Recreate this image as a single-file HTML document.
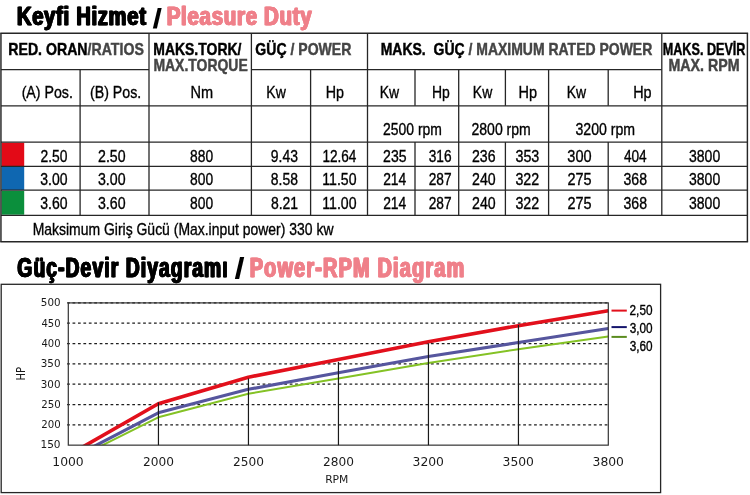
<!DOCTYPE html>
<html lang="tr"><head><meta charset="utf-8"><title>Keyfi Hizmet / Pleasure Duty</title>
<style>html,body{margin:0;padding:0;background:#fff}svg{display:block}text{white-space:pre}.b{stroke-width:0.45px}.r{stroke-width:0.35px}.H{letter-spacing:0.9px;stroke:currentColor;stroke-width:0.3px;filter:drop-shadow(0.85px 0 0 currentColor) drop-shadow(-0.85px 0 0 currentColor)}.H2{letter-spacing:1.6px;stroke:currentColor;stroke-width:0.3px;filter:drop-shadow(0.9px 0 0 currentColor) drop-shadow(-0.9px 0 0 currentColor)}</style></head>
<body>
<svg width="750" height="495" viewBox="0 0 750 495" font-family="'Liberation Sans', sans-serif">
<rect width="750" height="495" fill="#fff"/>
<rect x="1.5" y="142.7" width="22.7" height="23.4" fill="#e30a17"/>
<rect x="1.5" y="166.9" width="22.7" height="23.2" fill="#0f67b1"/>
<rect x="1.5" y="190.9" width="22.7" height="23.8" fill="#0b8f3c"/>
<g id="table">
<line x1="0.95" y1="105.80" x2="747.40" y2="105.80" stroke="#262626" stroke-width="1.3"/>
<line x1="0.95" y1="142.10" x2="747.40" y2="142.10" stroke="#262626" stroke-width="1.3"/>
<line x1="0.95" y1="166.30" x2="747.40" y2="166.30" stroke="#262626" stroke-width="1.3"/>
<line x1="0.95" y1="190.20" x2="747.40" y2="190.20" stroke="#262626" stroke-width="1.3"/>
<line x1="0.95" y1="215.30" x2="747.40" y2="215.30" stroke="#262626" stroke-width="1.3"/>
<line x1="0.25" y1="33.30" x2="748.10" y2="33.30" stroke="#262626" stroke-width="1.45"/>
<line x1="0.25" y1="241.75" x2="748.10" y2="241.75" stroke="#262626" stroke-width="1.45"/>
<line x1="0.95" y1="69.55" x2="149.00" y2="69.55" stroke="#262626" stroke-width="1.3"/>
<line x1="251.40" y1="69.55" x2="661.80" y2="69.55" stroke="#262626" stroke-width="1.3"/>
<line x1="0.95" y1="33.30" x2="0.95" y2="241.75" stroke="#262626" stroke-width="1.45"/>
<line x1="747.40" y1="33.30" x2="747.40" y2="241.75" stroke="#262626" stroke-width="1.45"/>
<line x1="80.10" y1="69.55" x2="80.10" y2="215.30" stroke="#262626" stroke-width="1.3"/>
<line x1="149.00" y1="33.30" x2="149.00" y2="215.30" stroke="#262626" stroke-width="1.3"/>
<line x1="251.40" y1="33.30" x2="251.40" y2="215.30" stroke="#262626" stroke-width="1.3"/>
<line x1="367.50" y1="33.30" x2="367.50" y2="215.30" stroke="#262626" stroke-width="1.3"/>
<line x1="661.80" y1="33.30" x2="661.80" y2="215.30" stroke="#262626" stroke-width="1.3"/>
<line x1="310.60" y1="69.55" x2="310.60" y2="215.30" stroke="#262626" stroke-width="1.3"/>
<line x1="458.70" y1="69.55" x2="458.70" y2="215.30" stroke="#262626" stroke-width="1.3"/>
<line x1="548.60" y1="69.55" x2="548.60" y2="215.30" stroke="#262626" stroke-width="1.3"/>
<line x1="415.00" y1="69.55" x2="415.00" y2="105.80" stroke="#262626" stroke-width="1.3"/>
<line x1="415.00" y1="142.10" x2="415.00" y2="215.30" stroke="#262626" stroke-width="1.3"/>
<line x1="505.40" y1="69.55" x2="505.40" y2="105.80" stroke="#262626" stroke-width="1.3"/>
<line x1="505.40" y1="142.10" x2="505.40" y2="215.30" stroke="#262626" stroke-width="1.3"/>
<line x1="608.20" y1="69.55" x2="608.20" y2="105.80" stroke="#262626" stroke-width="1.3"/>
<line x1="608.20" y1="142.10" x2="608.20" y2="215.30" stroke="#262626" stroke-width="1.3"/>
</g>
<g id="chart">
<rect x="1.2" y="284.3" width="659.4" height="208.3" fill="#fff" stroke="#262626" stroke-width="1.3"/>
<line x1="67.10" y1="302.90" x2="608.30" y2="302.90" stroke="#1e1e1e" stroke-width="1.25" stroke-dasharray="2.75 2.68"/>
<line x1="67.10" y1="323.22" x2="608.30" y2="323.22" stroke="#1e1e1e" stroke-width="1.25" stroke-dasharray="2.75 2.68"/>
<line x1="67.10" y1="343.54" x2="608.30" y2="343.54" stroke="#1e1e1e" stroke-width="1.25" stroke-dasharray="2.75 2.68"/>
<line x1="67.10" y1="363.86" x2="608.30" y2="363.86" stroke="#1e1e1e" stroke-width="1.25" stroke-dasharray="2.75 2.68"/>
<line x1="67.10" y1="384.19" x2="608.30" y2="384.19" stroke="#1e1e1e" stroke-width="1.25" stroke-dasharray="2.75 2.68"/>
<line x1="67.10" y1="404.51" x2="608.30" y2="404.51" stroke="#1e1e1e" stroke-width="1.25" stroke-dasharray="2.75 2.68"/>
<line x1="67.10" y1="424.83" x2="608.30" y2="424.83" stroke="#1e1e1e" stroke-width="1.25" stroke-dasharray="2.75 2.68"/>
<clipPath id="pc"><rect x="68.30" y="296.90" width="542.00" height="148.25"/></clipPath>
<polyline clip-path="url(#pc)" fill="none" stroke="#84c225" stroke-width="2.0" stroke-linejoin="round" points="90.7,451.1 102.7,445.1 158.3,417.3 248.3,393.8 338.3,378.4 428.3,362.9 518.3,349.2 608.3,336.4"/>
<polyline clip-path="url(#pc)" fill="none" stroke="#56569e" stroke-width="3.2" stroke-linejoin="round" points="84.9,451.1 96.4,445.1 158.3,412.8 248.3,389.3 338.3,372.8 428.3,356.5 518.3,342.5 608.3,328.5"/>
<polyline clip-path="url(#pc)" fill="none" stroke="#e2101c" stroke-width="3.6" stroke-linejoin="round" points="75.5,451.1 86.0,445.1 158.3,403.7 248.3,377.2 338.3,359.5 428.3,341.7 518.3,325.7 608.3,310.8"/>
<rect x="68.30" y="302.90" width="540.00" height="142.25" fill="none" stroke="#333" stroke-width="1.2"/>
<line x1="158.45" y1="402.40" x2="158.45" y2="445.15" stroke="#1a1a1a" stroke-width="1.2"/>
<line x1="248.45" y1="378.50" x2="248.45" y2="445.15" stroke="#1a1a1a" stroke-width="1.2"/>
<line x1="338.45" y1="361.90" x2="338.45" y2="445.15" stroke="#1a1a1a" stroke-width="1.2"/>
<line x1="428.45" y1="343.30" x2="428.45" y2="445.15" stroke="#1a1a1a" stroke-width="1.2"/>
<line x1="518.45" y1="325.00" x2="518.45" y2="445.15" stroke="#1a1a1a" stroke-width="1.2"/>
<line x1="611.50" y1="310.60" x2="626.80" y2="310.60" stroke="#e2101c" stroke-width="2.0"/>
<line x1="611.50" y1="327.10" x2="626.80" y2="327.10" stroke="#15156c" stroke-width="2.0"/>
<line x1="611.50" y1="336.90" x2="626.80" y2="336.90" stroke="#5b8c1f" stroke-width="2.0"/>
</g>
<text id="t0" x="17.38" y="25.40" textLength="129.72" lengthAdjust="spacingAndGlyphs" fill="#000" font-family="'Liberation Sans', sans-serif" font-size="25.8" font-weight="bold" class="H" color="#000">Keyfi Hizmet</text>
<text id="t1" x="152.50" y="27.70" textLength="9.52" lengthAdjust="spacingAndGlyphs" fill="#000" font-family="'Liberation Sans', sans-serif" font-size="28.2" font-weight="bold">/</text>
<text id="t2" x="167.23" y="25.40" textLength="145.72" lengthAdjust="spacingAndGlyphs" fill="#ef808a" font-family="'Liberation Sans', sans-serif" font-size="25.8" font-weight="bold" class="H" color="#ef808a">Pleasure Duty</text>
<text id="t3" x="17.83" y="277.20" textLength="211.40" lengthAdjust="spacingAndGlyphs" fill="#000" font-family="'Liberation Sans', sans-serif" font-size="28.3" font-weight="bold" class="H2" color="#000">Güç-Devir Diyagramı</text>
<text id="t4" x="234.58" y="278.90" textLength="10.06" lengthAdjust="spacingAndGlyphs" fill="#000" font-family="'Liberation Sans', sans-serif" font-size="29.3" font-weight="bold">/</text>
<text id="t5" x="250.17" y="277.20" textLength="215.67" lengthAdjust="spacingAndGlyphs" fill="#ef808a" font-family="'Liberation Sans', sans-serif" font-size="28.3" font-weight="bold" class="H2" color="#ef808a">Power-RPM Diagram</text>
<text id="t6" x="8.28" y="54.60" textLength="135.58" lengthAdjust="spacingAndGlyphs" fill="#000" font-family="'Liberation Sans', sans-serif" font-size="16.4" font-weight="bold" class="b" stroke="#000">RED. ORAN<tspan fill="#454545" stroke="#454545">/RATIOS</tspan></text>
<text id="t7" x="153.25" y="54.60" textLength="88.18" lengthAdjust="spacingAndGlyphs" fill="#000" font-family="'Liberation Sans', sans-serif" font-size="16.4" font-weight="bold" class="b" stroke="#000">MAKS.TORK/</text>
<text id="t8" x="153.42" y="71.10" textLength="94.31" lengthAdjust="spacingAndGlyphs" fill="#454545" font-family="'Liberation Sans', sans-serif" font-size="16.4" font-weight="bold" class="b" stroke="#454545">MAX.TORQUE</text>
<text id="t9" x="255.36" y="54.60" textLength="95.96" lengthAdjust="spacingAndGlyphs" fill="#000" font-family="'Liberation Sans', sans-serif" font-size="16.4" font-weight="bold" class="b" stroke="#000">GÜÇ<tspan fill="#454545" stroke="#454545"> / POWER</tspan></text>
<text id="t10" x="380.70" y="54.60" textLength="271.58" lengthAdjust="spacingAndGlyphs" fill="#000" font-family="'Liberation Sans', sans-serif" font-size="16.4" font-weight="bold" class="b" stroke="#000">MAKS.  GÜÇ<tspan fill="#454545" stroke="#454545"> / MAXIMUM RATED POWER</tspan></text>
<text id="t11" x="662.76" y="54.60" textLength="82.69" lengthAdjust="spacingAndGlyphs" fill="#000" font-family="'Liberation Sans', sans-serif" font-size="16.4" font-weight="bold" class="b" stroke="#000">MAKS. DEVİR</text>
<text id="t12" x="668.43" y="71.30" textLength="71.16" lengthAdjust="spacingAndGlyphs" fill="#454545" font-family="'Liberation Sans', sans-serif" font-size="16.4" font-weight="bold" class="b" stroke="#454545">MAX. RPM</text>
<text id="t13" x="21.63" y="98.20" textLength="51.26" lengthAdjust="spacingAndGlyphs" fill="#000" font-family="'Liberation Sans', sans-serif" font-size="17.2" class="r" stroke="#000">(A) Pos.</text>
<text id="t14" x="90.00" y="98.20" textLength="51.27" lengthAdjust="spacingAndGlyphs" fill="#000" font-family="'Liberation Sans', sans-serif" font-size="17.2" class="r" stroke="#000">(B) Pos.</text>
<text id="t15" x="190.47" y="98.20" textLength="22.60" lengthAdjust="spacingAndGlyphs" fill="#000" font-family="'Liberation Sans', sans-serif" font-size="17.2" class="r" stroke="#000">Nm</text>
<text id="t16" x="266.35" y="98.20" textLength="19.48" lengthAdjust="spacingAndGlyphs" fill="#000" font-family="'Liberation Sans', sans-serif" font-size="17.2" class="r" stroke="#000">Kw</text>
<text id="t17" x="325.64" y="98.20" textLength="18.28" lengthAdjust="spacingAndGlyphs" fill="#000" font-family="'Liberation Sans', sans-serif" font-size="17.2" class="r" stroke="#000">Hp</text>
<text id="t18" x="379.73" y="98.20" textLength="19.39" lengthAdjust="spacingAndGlyphs" fill="#000" font-family="'Liberation Sans', sans-serif" font-size="17.2" class="r" stroke="#000">Kw</text>
<text id="t19" x="431.92" y="98.20" textLength="17.83" lengthAdjust="spacingAndGlyphs" fill="#000" font-family="'Liberation Sans', sans-serif" font-size="17.2" class="r" stroke="#000">Hp</text>
<text id="t20" x="472.85" y="98.20" textLength="19.39" lengthAdjust="spacingAndGlyphs" fill="#000" font-family="'Liberation Sans', sans-serif" font-size="17.2" class="r" stroke="#000">Kw</text>
<text id="t21" x="518.50" y="98.20" textLength="18.53" lengthAdjust="spacingAndGlyphs" fill="#000" font-family="'Liberation Sans', sans-serif" font-size="17.2" class="r" stroke="#000">Hp</text>
<text id="t22" x="566.73" y="98.20" textLength="19.39" lengthAdjust="spacingAndGlyphs" fill="#000" font-family="'Liberation Sans', sans-serif" font-size="17.2" class="r" stroke="#000">Kw</text>
<text id="t23" x="633.19" y="98.20" textLength="18.39" lengthAdjust="spacingAndGlyphs" fill="#000" font-family="'Liberation Sans', sans-serif" font-size="17.2" class="r" stroke="#000">Hp</text>
<text id="t24" x="383.10" y="134.70" textLength="58.88" lengthAdjust="spacingAndGlyphs" fill="#000" font-family="'Liberation Sans', sans-serif" font-size="16.8" class="r" stroke="#000">2500 rpm</text>
<text id="t25" x="471.48" y="134.70" textLength="59.35" lengthAdjust="spacingAndGlyphs" fill="#000" font-family="'Liberation Sans', sans-serif" font-size="16.8" class="r" stroke="#000">2800 rpm</text>
<text id="t26" x="575.45" y="134.70" textLength="59.67" lengthAdjust="spacingAndGlyphs" fill="#000" font-family="'Liberation Sans', sans-serif" font-size="16.8" class="r" stroke="#000">3200 rpm</text>
<text id="t27" x="40.50" y="161.90" textLength="26.99" lengthAdjust="spacingAndGlyphs" fill="#000" font-family="'Liberation Sans', sans-serif" font-size="16.8" class="r" stroke="#000">2.50</text>
<text id="t28" x="98.07" y="161.90" textLength="27.55" lengthAdjust="spacingAndGlyphs" fill="#000" font-family="'Liberation Sans', sans-serif" font-size="16.8" class="r" stroke="#000">2.50</text>
<text id="t29" x="190.07" y="161.90" textLength="23.05" lengthAdjust="spacingAndGlyphs" fill="#000" font-family="'Liberation Sans', sans-serif" font-size="16.8" class="r" stroke="#000">880</text>
<text id="t30" x="270.76" y="161.90" textLength="27.16" lengthAdjust="spacingAndGlyphs" fill="#000" font-family="'Liberation Sans', sans-serif" font-size="16.8" class="r" stroke="#000">9.43</text>
<text id="t31" x="322.39" y="161.90" textLength="33.99" lengthAdjust="spacingAndGlyphs" fill="#000" font-family="'Liberation Sans', sans-serif" font-size="16.8" class="r" stroke="#000">12.64</text>
<text id="t32" x="383.10" y="161.90" textLength="23.47" lengthAdjust="spacingAndGlyphs" fill="#000" font-family="'Liberation Sans', sans-serif" font-size="16.8" class="r" stroke="#000">235</text>
<text id="t33" x="428.78" y="161.90" textLength="22.81" lengthAdjust="spacingAndGlyphs" fill="#000" font-family="'Liberation Sans', sans-serif" font-size="16.8" class="r" stroke="#000">316</text>
<text id="t34" x="472.03" y="161.90" textLength="23.55" lengthAdjust="spacingAndGlyphs" fill="#000" font-family="'Liberation Sans', sans-serif" font-size="16.8" class="r" stroke="#000">236</text>
<text id="t35" x="515.45" y="161.90" textLength="23.88" lengthAdjust="spacingAndGlyphs" fill="#000" font-family="'Liberation Sans', sans-serif" font-size="16.8" class="r" stroke="#000">353</text>
<text id="t36" x="567.35" y="161.90" textLength="24.29" lengthAdjust="spacingAndGlyphs" fill="#000" font-family="'Liberation Sans', sans-serif" font-size="16.8" class="r" stroke="#000">300</text>
<text id="t37" x="623.89" y="161.90" textLength="22.82" lengthAdjust="spacingAndGlyphs" fill="#000" font-family="'Liberation Sans', sans-serif" font-size="16.8" class="r" stroke="#000">404</text>
<text id="t38" x="688.99" y="161.90" textLength="31.26" lengthAdjust="spacingAndGlyphs" fill="#000" font-family="'Liberation Sans', sans-serif" font-size="16.8" class="r" stroke="#000">3800</text>
<text id="t39" x="40.28" y="185.40" textLength="27.27" lengthAdjust="spacingAndGlyphs" fill="#000" font-family="'Liberation Sans', sans-serif" font-size="16.8" class="r" stroke="#000">3.00</text>
<text id="t40" x="97.99" y="185.40" textLength="27.59" lengthAdjust="spacingAndGlyphs" fill="#000" font-family="'Liberation Sans', sans-serif" font-size="16.8" class="r" stroke="#000">3.00</text>
<text id="t41" x="190.07" y="185.40" textLength="23.05" lengthAdjust="spacingAndGlyphs" fill="#000" font-family="'Liberation Sans', sans-serif" font-size="16.8" class="r" stroke="#000">800</text>
<text id="t42" x="270.87" y="185.40" textLength="27.12" lengthAdjust="spacingAndGlyphs" fill="#000" font-family="'Liberation Sans', sans-serif" font-size="16.8" class="r" stroke="#000">8.58</text>
<text id="t43" x="322.31" y="185.40" textLength="34.23" lengthAdjust="spacingAndGlyphs" fill="#000" font-family="'Liberation Sans', sans-serif" font-size="16.8" class="r" stroke="#000">11.50</text>
<text id="t44" x="383.14" y="185.40" textLength="23.13" lengthAdjust="spacingAndGlyphs" fill="#000" font-family="'Liberation Sans', sans-serif" font-size="16.8" class="r" stroke="#000">214</text>
<text id="t45" x="428.74" y="185.40" textLength="22.82" lengthAdjust="spacingAndGlyphs" fill="#000" font-family="'Liberation Sans', sans-serif" font-size="16.8" class="r" stroke="#000">287</text>
<text id="t46" x="472.08" y="185.40" textLength="23.62" lengthAdjust="spacingAndGlyphs" fill="#000" font-family="'Liberation Sans', sans-serif" font-size="16.8" class="r" stroke="#000">240</text>
<text id="t47" x="515.44" y="185.40" textLength="23.77" lengthAdjust="spacingAndGlyphs" fill="#000" font-family="'Liberation Sans', sans-serif" font-size="16.8" class="r" stroke="#000">322</text>
<text id="t48" x="567.54" y="185.40" textLength="24.11" lengthAdjust="spacingAndGlyphs" fill="#000" font-family="'Liberation Sans', sans-serif" font-size="16.8" class="r" stroke="#000">275</text>
<text id="t49" x="623.48" y="185.40" textLength="23.51" lengthAdjust="spacingAndGlyphs" fill="#000" font-family="'Liberation Sans', sans-serif" font-size="16.8" class="r" stroke="#000">368</text>
<text id="t50" x="688.99" y="185.40" textLength="31.26" lengthAdjust="spacingAndGlyphs" fill="#000" font-family="'Liberation Sans', sans-serif" font-size="16.8" class="r" stroke="#000">3800</text>
<text id="t51" x="40.28" y="208.90" textLength="27.27" lengthAdjust="spacingAndGlyphs" fill="#000" font-family="'Liberation Sans', sans-serif" font-size="16.8" class="r" stroke="#000">3.60</text>
<text id="t52" x="97.99" y="208.90" textLength="27.59" lengthAdjust="spacingAndGlyphs" fill="#000" font-family="'Liberation Sans', sans-serif" font-size="16.8" class="r" stroke="#000">3.60</text>
<text id="t53" x="190.07" y="208.90" textLength="23.05" lengthAdjust="spacingAndGlyphs" fill="#000" font-family="'Liberation Sans', sans-serif" font-size="16.8" class="r" stroke="#000">800</text>
<text id="t54" x="270.88" y="208.90" textLength="27.18" lengthAdjust="spacingAndGlyphs" fill="#000" font-family="'Liberation Sans', sans-serif" font-size="16.8" class="r" stroke="#000">8.21</text>
<text id="t55" x="322.31" y="208.90" textLength="34.23" lengthAdjust="spacingAndGlyphs" fill="#000" font-family="'Liberation Sans', sans-serif" font-size="16.8" class="r" stroke="#000">11.00</text>
<text id="t56" x="383.14" y="208.90" textLength="23.13" lengthAdjust="spacingAndGlyphs" fill="#000" font-family="'Liberation Sans', sans-serif" font-size="16.8" class="r" stroke="#000">214</text>
<text id="t57" x="428.74" y="208.90" textLength="22.82" lengthAdjust="spacingAndGlyphs" fill="#000" font-family="'Liberation Sans', sans-serif" font-size="16.8" class="r" stroke="#000">287</text>
<text id="t58" x="472.08" y="208.90" textLength="23.62" lengthAdjust="spacingAndGlyphs" fill="#000" font-family="'Liberation Sans', sans-serif" font-size="16.8" class="r" stroke="#000">240</text>
<text id="t59" x="515.44" y="208.90" textLength="23.77" lengthAdjust="spacingAndGlyphs" fill="#000" font-family="'Liberation Sans', sans-serif" font-size="16.8" class="r" stroke="#000">322</text>
<text id="t60" x="567.54" y="208.90" textLength="24.11" lengthAdjust="spacingAndGlyphs" fill="#000" font-family="'Liberation Sans', sans-serif" font-size="16.8" class="r" stroke="#000">275</text>
<text id="t61" x="623.48" y="208.90" textLength="23.51" lengthAdjust="spacingAndGlyphs" fill="#000" font-family="'Liberation Sans', sans-serif" font-size="16.8" class="r" stroke="#000">368</text>
<text id="t62" x="688.99" y="208.90" textLength="31.26" lengthAdjust="spacingAndGlyphs" fill="#000" font-family="'Liberation Sans', sans-serif" font-size="16.8" class="r" stroke="#000">3800</text>
<text id="t63" x="32.66" y="235.30" textLength="300.82" lengthAdjust="spacingAndGlyphs" fill="#000" font-family="'Liberation Sans', sans-serif" font-size="17" class="r" stroke="#000">Maksimum Giriş Gücü (Max.input power) 330 kw</text>
<text id="t64" x="40.87" y="306.25" textLength="19.73" lengthAdjust="spacingAndGlyphs" fill="#1a1a1a" font-family="'DejaVu Sans', sans-serif" font-size="9.7">500</text>
<text id="t65" x="41.47" y="326.57" textLength="19.08" lengthAdjust="spacingAndGlyphs" fill="#1a1a1a" font-family="'DejaVu Sans', sans-serif" font-size="9.7">450</text>
<text id="t66" x="41.47" y="346.89" textLength="19.08" lengthAdjust="spacingAndGlyphs" fill="#1a1a1a" font-family="'DejaVu Sans', sans-serif" font-size="9.7">400</text>
<text id="t67" x="40.74" y="367.21" textLength="19.79" lengthAdjust="spacingAndGlyphs" fill="#1a1a1a" font-family="'DejaVu Sans', sans-serif" font-size="9.7">350</text>
<text id="t68" x="40.74" y="387.53" textLength="19.79" lengthAdjust="spacingAndGlyphs" fill="#1a1a1a" font-family="'DejaVu Sans', sans-serif" font-size="9.7">300</text>
<text id="t69" x="41.17" y="407.85" textLength="19.50" lengthAdjust="spacingAndGlyphs" fill="#1a1a1a" font-family="'DejaVu Sans', sans-serif" font-size="9.7">250</text>
<text id="t70" x="41.17" y="428.17" textLength="19.50" lengthAdjust="spacingAndGlyphs" fill="#1a1a1a" font-family="'DejaVu Sans', sans-serif" font-size="9.7">200</text>
<text id="t71" x="40.45" y="448.49" textLength="20.10" lengthAdjust="spacingAndGlyphs" fill="#1a1a1a" font-family="'DejaVu Sans', sans-serif" font-size="9.7">150</text>
<text id="t72" x="52.27" y="465.80" textLength="31.49" lengthAdjust="spacingAndGlyphs" fill="#1a1a1a" font-family="'DejaVu Sans', sans-serif" font-size="11.6">1000</text>
<text id="t73" x="142.99" y="465.80" textLength="30.93" lengthAdjust="spacingAndGlyphs" fill="#1a1a1a" font-family="'DejaVu Sans', sans-serif" font-size="11.6">2000</text>
<text id="t74" x="232.99" y="465.80" textLength="30.93" lengthAdjust="spacingAndGlyphs" fill="#1a1a1a" font-family="'DejaVu Sans', sans-serif" font-size="11.6">2500</text>
<text id="t75" x="322.99" y="465.80" textLength="30.93" lengthAdjust="spacingAndGlyphs" fill="#1a1a1a" font-family="'DejaVu Sans', sans-serif" font-size="11.6">2800</text>
<text id="t76" x="412.54" y="465.80" textLength="31.44" lengthAdjust="spacingAndGlyphs" fill="#1a1a1a" font-family="'DejaVu Sans', sans-serif" font-size="11.6">3200</text>
<text id="t77" x="502.54" y="465.80" textLength="31.44" lengthAdjust="spacingAndGlyphs" fill="#1a1a1a" font-family="'DejaVu Sans', sans-serif" font-size="11.6">3500</text>
<text id="t78" x="592.54" y="465.80" textLength="31.44" lengthAdjust="spacingAndGlyphs" fill="#1a1a1a" font-family="'DejaVu Sans', sans-serif" font-size="11.6">3800</text>
<text id="t79" x="325.13" y="482.80" textLength="23.29" lengthAdjust="spacingAndGlyphs" fill="#1a1a1a" font-family="'DejaVu Sans', sans-serif" font-size="11">RPM</text>
<text id="t80" transform="translate(25.20,380.60) rotate(-90)" x="0" y="0" textLength="13.60" lengthAdjust="spacingAndGlyphs" fill="#1a1a1a" font-family="'DejaVu Sans', sans-serif" font-size="12.2">HP</text>
<text id="t81" x="629.57" y="315.40" textLength="22.93" lengthAdjust="spacingAndGlyphs" fill="#000" font-family="'Liberation Sans', sans-serif" font-size="13.8" class="r" stroke="#000">2,50</text>
<text id="t82" x="629.71" y="333.10" textLength="22.86" lengthAdjust="spacingAndGlyphs" fill="#000" font-family="'Liberation Sans', sans-serif" font-size="13.8" class="r" stroke="#000">3,00</text>
<text id="t83" x="629.71" y="351.40" textLength="22.86" lengthAdjust="spacingAndGlyphs" fill="#000" font-family="'Liberation Sans', sans-serif" font-size="13.8" class="r" stroke="#000">3,60</text>
</svg>
</body></html>
